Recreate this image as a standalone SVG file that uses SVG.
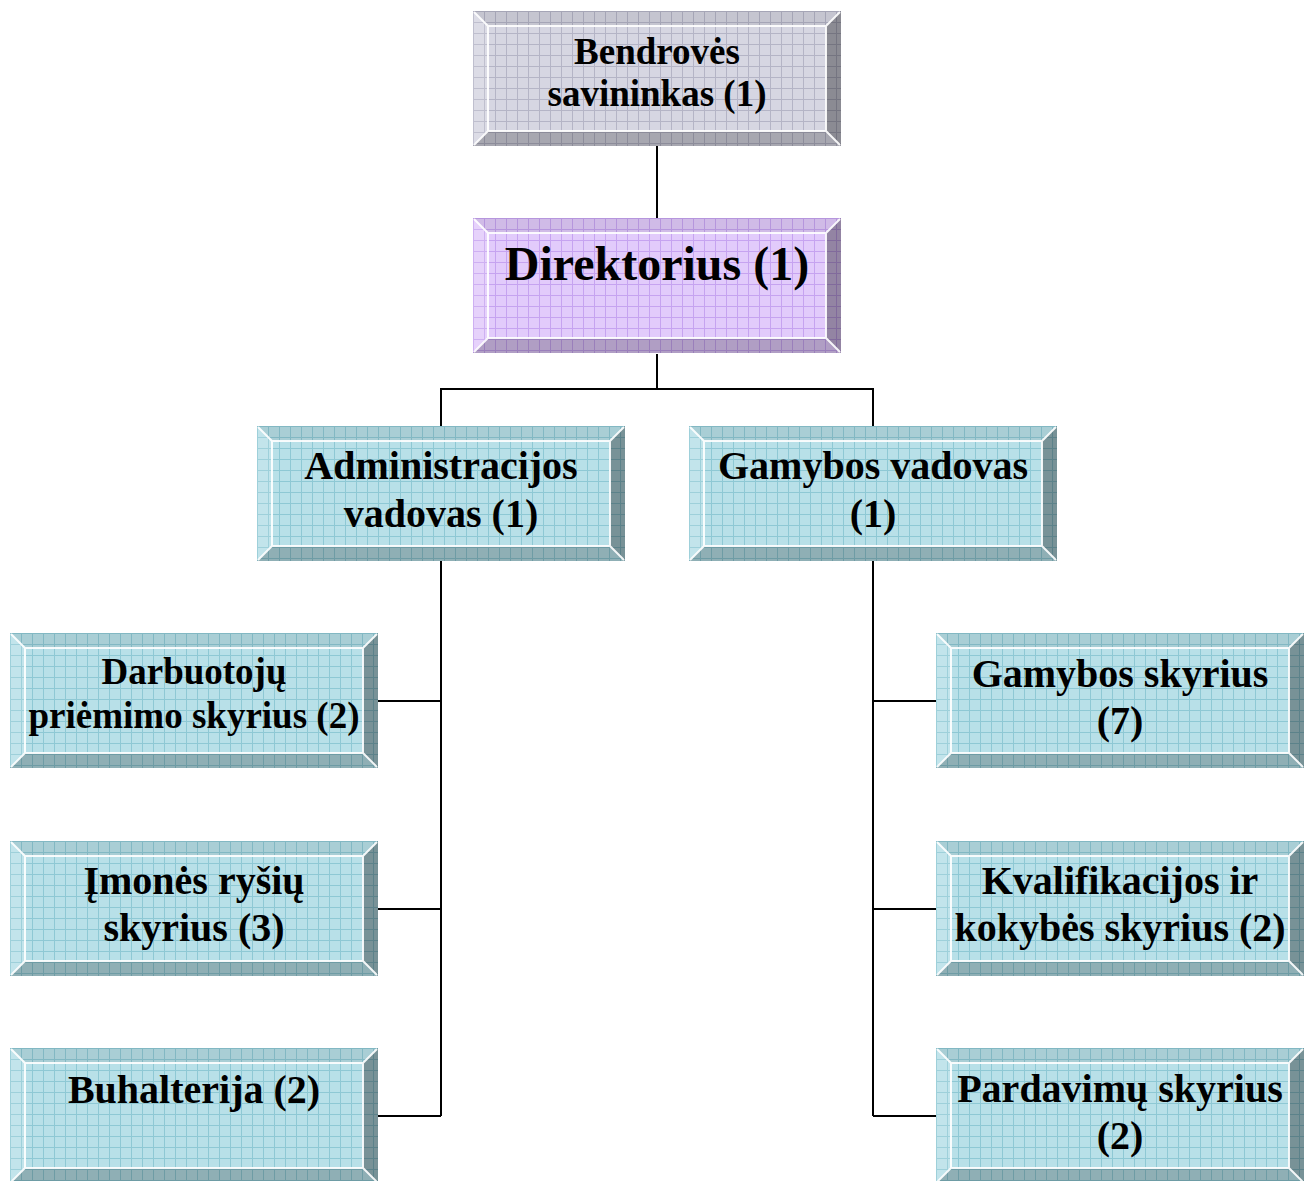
<svg xmlns="http://www.w3.org/2000/svg" width="1312" height="1181" viewBox="0 0 1312 1181">
<style>
.t{font-weight:bold;fill:#000;text-anchor:middle}
.s37{font-size:37px}.s40{font-size:40px}.s48{font-size:48px}
.conn{stroke:#000;stroke-width:2;fill:none}
.hl{stroke:#fff;stroke-width:2;fill:none}
</style>
<defs>
<pattern id="pg" width="11" height="11" patternUnits="userSpaceOnUse"><rect width="11" height="11" fill="#d6d6e2"/><path d="M0 0.5H11M0.5 0V11" stroke="#b4b4c6" stroke-width="1"/></pattern>
<pattern id="pp" width="11" height="11" patternUnits="userSpaceOnUse"><rect width="11" height="11" fill="#e2cbfb"/><path d="M0 0.5H11M0.5 0V11" stroke="#c6a3f0" stroke-width="1"/></pattern>
<pattern id="pt" width="11" height="11" patternUnits="userSpaceOnUse"><rect width="11" height="11" fill="#b8e0e8"/><path d="M0 0.5H11M0.5 0V11" stroke="#8ec8d4" stroke-width="1"/></pattern>
<g id="bev">
<polygon points="0,0 368,0 353,15 15,15" fill="#000" fill-opacity="0.08"/>
<polygon points="0,0 15,15 15,120 0,135" fill="#fff" fill-opacity="0.15"/>
<polygon points="368,0 368,135 353,120 353,15" fill="#000" fill-opacity="0.35"/>
<polygon points="0,135 15,120 353,120 368,135" fill="#000" fill-opacity="0.22"/>
<path class="hl" d="M1,1L15,15M367,1L353,15M1,134L15,120M367,134L353,120M15,120V15H353M15,120H353V15" stroke-opacity="0.9"/>
</g>
<g id="bg"><rect width="368" height="135" fill="url(#pg)"/><use href="#bev"/></g>
<g id="bp"><rect width="368" height="135" fill="url(#pp)"/><use href="#bev"/></g>
<g id="bt"><rect width="368" height="135" fill="url(#pt)"/><use href="#bev"/></g>
</defs>
<rect width="1312" height="1181" fill="#fff"/>
<g id="connectors">
<path class="conn" d="M657 146V218"/>
<path class="conn" d="M657 354V389M441 426V389H873V426"/>
<path class="conn" d="M441 561V1116M378 701H441M378 909H441M378 1116H441"/>
<path class="conn" d="M873 561V1116M873 701H936M873 909H936M873 1116H936"/>
</g>
<g font-family="Liberation Serif, serif">
<g id="owner"><use href="#bg" x="473" y="11"/><text class="t s37" x="657" y="64">Bendrovės</text><text class="t s37" x="657" y="106">savininkas (1)</text></g>
<g id="director"><use href="#bp" x="473" y="218"/><text class="t s48" x="657" y="280">Direktorius (1)</text></g>
<g id="admin"><use href="#bt" x="257" y="426"/><text class="t s40" x="441" y="479">Administracijos</text><text class="t s40" x="441" y="527">vadovas (1)</text></g>
<g id="gamybos-vadovas"><use href="#bt" x="689" y="426"/><text class="t s40" x="873" y="479">Gamybos vadovas</text><text class="t s40" x="873" y="527">(1)</text></g>
<g id="darbuotoju"><use href="#bt" x="10" y="633"/><text class="t s37" x="194" y="684">Darbuotojų</text><text class="t s37" x="194" y="728">priėmimo skyrius (2)</text></g>
<g id="imones"><use href="#bt" x="10" y="841"/><text class="t s40" x="194" y="894">Įmonės ryšių</text><text class="t s40" x="194" y="941">skyrius (3)</text></g>
<g id="buhalterija"><use href="#bt" x="10" y="1048"/><text class="t s40" x="194" y="1103">Buhalterija (2)</text></g>
<g id="gamybos-skyrius"><use href="#bt" x="936" y="633"/><text class="t s40" x="1120" y="687">Gamybos skyrius</text><text class="t s40" x="1120" y="734">(7)</text></g>
<g id="kvalifikacijos"><use href="#bt" x="936" y="841"/><text class="t s40" x="1120" y="894">Kvalifikacijos ir</text><text class="t s40" x="1120" y="941">kokybės skyrius (2)</text></g>
<g id="pardavimu"><use href="#bt" x="936" y="1048"/><text class="t s40" x="1120" y="1102">Pardavimų skyrius</text><text class="t s40" x="1120" y="1149">(2)</text></g>
</g>
</svg>
